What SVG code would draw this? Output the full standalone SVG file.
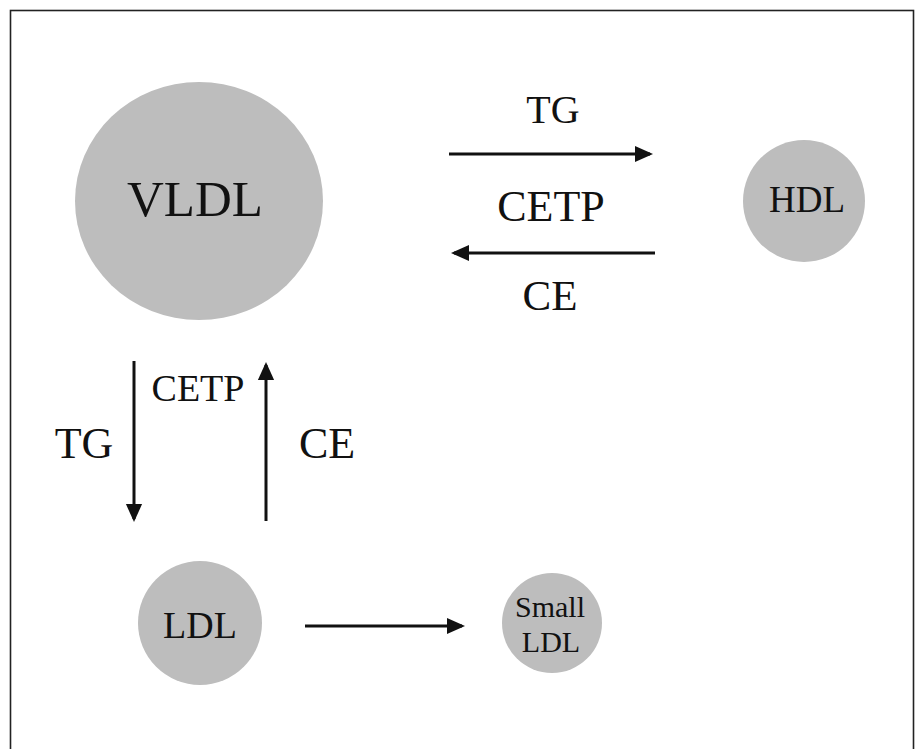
<svg xmlns="http://www.w3.org/2000/svg" width="919" height="749" viewBox="0 0 919 749">
<style>
.n{fill:#bdbdbd;stroke:none}
.t{font-family:"Liberation Serif","Times New Roman",serif;fill:#111;text-anchor:middle}
.c{stroke:#111;stroke-width:3;fill:none}
</style>
<defs>
<marker id="ah" markerWidth="6" markerHeight="6" refX="5" refY="3" orient="auto" markerUnits="strokeWidth">
<path d="M0,0.3 L6,3 L0,5.7 Z" fill="#111"/>
</marker>
</defs>
<rect x="0" y="0" width="919" height="749" fill="#fff"/>
<rect x="10.5" y="10.5" width="903" height="760" fill="none" stroke="#222" stroke-width="1.6"/>
<g id="vldl">
<ellipse class="n" cx="199" cy="201" rx="124" ry="119"/>
<text class="t" x="195" y="216" font-size="51">VLDL</text>
</g>
<g id="hdl">
<circle class="n" cx="804" cy="201" r="61"/>
<text class="t" x="807" y="212" font-size="37">HDL</text>
</g>
<g id="ldl">
<circle class="n" cx="200" cy="623" r="62"/>
<text class="t" x="200" y="638" font-size="38">LDL</text>
</g>
<g id="smallldl">
<circle class="n" cx="552" cy="623" r="50"/>
<text class="t" x="550" y="617" font-size="30">Small</text>
<text class="t" x="551" y="652" font-size="30">LDL</text>
</g>
<g id="connectors">
<line class="c" x1="449" y1="154" x2="650" y2="154" marker-end="url(#ah)"/>
<line class="c" x1="655" y1="253" x2="454" y2="253" marker-end="url(#ah)"/>
<line class="c" x1="134" y1="361" x2="134" y2="519" marker-end="url(#ah)"/>
<line class="c" x1="266" y1="521" x2="266" y2="365" marker-end="url(#ah)"/>
<line class="c" x1="305" y1="626" x2="462" y2="626" marker-end="url(#ah)"/>
</g>
<g id="labels">
<text class="t" x="553" y="123" font-size="40">TG</text>
<text class="t" x="551" y="221" font-size="44">CETP</text>
<text class="t" x="550" y="310" font-size="43">CE</text>
<text class="t" x="198" y="401" font-size="38">CETP</text>
<text class="t" x="84" y="458" font-size="44">TG</text>
<text class="t" x="327" y="458" font-size="44">CE</text>
</g>
</svg>
